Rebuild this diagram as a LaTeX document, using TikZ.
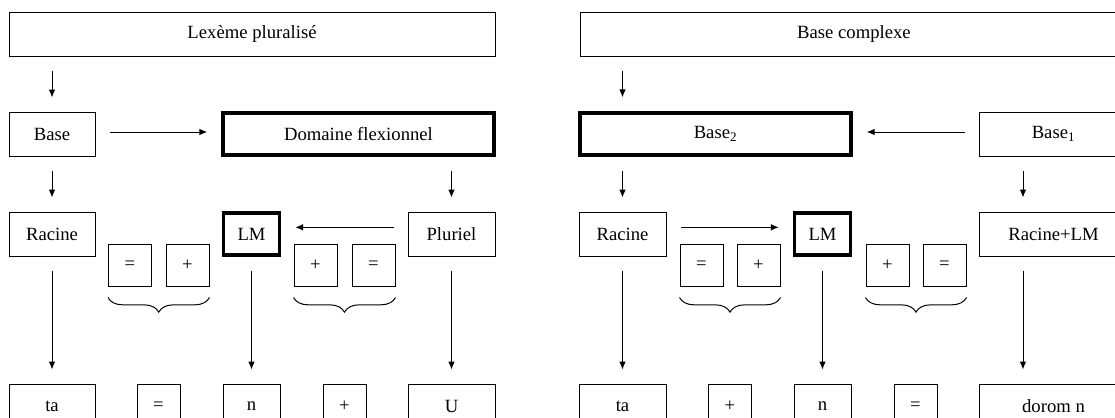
\documentclass[tikz,border=0pt]{standalone}
\usepackage{fontspec}
\setmainfont{Liberation Serif}
\usetikzlibrary{arrows.meta,decorations.pathreplacing,calc}

\tikzset{
  sz/.style 2 args={minimum width=#1*0.75pt,minimum height=#2*0.75pt},
  box/.style={draw,line width=0.75pt,inner sep=0pt,font=\fontsize{14}{16}\selectfont},
  thickbox/.style={box,line width=2.6pt},
  sym/.style={box,sz={43}{42}},
  arr/.style={-{Latex[length=6pt,width=5pt]},line width=0.75pt,shorten <=10.5pt,shorten >=10.5pt},
  brc/.style={decorate,decoration={brace,mirror,amplitude=11pt},line width=0.75pt}
}

\begin{document}
\begin{tikzpicture}[x=0.75pt,y=-0.75pt]
  \useasboundingbox (0,0) rectangle (1115,418);
  \clip (0,0) rectangle (1115,418);

  % left: Lexeme pluralise
  \node[box,sz={486}{44}] (lex) at (252,34) {Lexème pluralisé};
  \node[box,sz={86}{44}] (baseL) at (52,134) {Base};
  \node[thickbox,sz={271}{42}] (domL) at (358.5,134) {Domaine flexionnel};
  \node[box,sz={86}{44}] (racL) at (52,234) {Racine};
  \node[thickbox,sz={56}{42}] (lmL) at (251.5,234) {LM};
  \node[box,sz={87}{44}] (pluL) at (451.5,234) {Pluriel};
  \node[sym] (eqL1) at (130,265) {=};
  \node[sym] (plL1) at (187.5,265) {+};
  \node[sym] (plL2) at (315.5,265) {+};
  \node[sym] (eqL2) at (373.5,265) {=};
  \node[box,sz={86}{44}] (taL) at (52,406) {ta};
  \node[box,sz={43}{44}] (eqB) at (158.5,406) {=};
  \node[box,sz={57}{44}] (nL) at (251.5,406) {n};
  \node[box,sz={43}{44}] (plB) at (344.5,406) {+};
  \node[box,sz={87}{44}] (uL) at (451.5,406) {U};

  \draw[arr] (baseL |- lex.south) -- (baseL.north);
  \draw[arr] ([yshift=1.5pt]baseL.east) -- ([yshift=1.5pt]baseL.east -| domL.west);
  \draw[arr] (baseL) -- (racL);
  \draw[arr] (pluL |- domL.south) -- (pluL.north);
  \draw[arr] ([yshift=5pt]pluL.west) -- ([yshift=5pt]pluL.west -| lmL.east);
  \draw[arr] (racL) -- (taL);
  \draw[arr] (lmL) -- (nL);
  \draw[arr] (pluL) -- (uL);
  \draw[brc] ($(eqL1.south west)+(0,11)$) -- ($(plL1.south east)+(0,11)$);
  \draw[brc] ($(plL2.south west)+(0,11)$) -- ($(eqL2.south east)+(0,11)$);

  % right: Base complexe
  \node[box,sz={548}{44}] (cplx) at (854,34) {Base complexe};
  \node[thickbox,sz={271}{42}] (base2) at (715.5,134) {Base\textsubscript{2}};
  \node[box,sz={149}{44}] (base1) at (1053.5,134) {Base\textsubscript{1}};
  \node[box,sz={87}{44}] (racR) at (622.5,234) {Racine};
  \node[thickbox,sz={56}{42}] (lmR) at (822.5,234) {LM};
  \node[box,sz={149}{44}] (raclm) at (1053.5,234) {Racine+LM};
  \node[sym] (eqR1) at (701.5,265) {=};
  \node[sym] (plR1) at (758.5,265) {+};
  \node[sym] (plR2) at (887.5,265) {+};
  \node[sym] (eqR2) at (944.5,265) {=};
  \node[box,sz={87}{44}] (taR) at (622.5,406) {ta};
  \node[box,sz={43}{44}] (plB2) at (730,406) {+};
  \node[box,sz={57}{44}] (nR) at (822.5,406) {n};
  \node[box,sz={43}{44}] (eqB2) at (915.5,406) {=};
  \node[box,sz={149}{44}] (dorom) at (1053.5,406) {dorom n};

  \draw[arr] (racR |- cplx.south) -- (base2.north -| racR);
  \draw[arr] ([yshift=1.5pt]base1.west) -- ([yshift=1.5pt]base1.west -| base2.east);
  \draw[arr] (base2.south -| racR) -- (racR.north);
  \draw[arr] (base1.south -| 1023,0) -- (raclm.north -| 1023,0);
  \draw[arr] ([yshift=5pt]racR.east) -- ([yshift=5pt]racR.east -| lmR.west);
  \draw[arr] (racR) -- (taR);
  \draw[arr] (lmR) -- (nR);
  \draw[arr] (raclm.south -| 1023,0) -- (dorom.north -| 1023,0);
  \draw[brc] ($(eqR1.south west)+(0,11)$) -- ($(plR1.south east)+(0,11)$);
  \draw[brc] ($(plR2.south west)+(0,11)$) -- ($(eqR2.south east)+(0,11)$);
\end{tikzpicture}
\end{document}
